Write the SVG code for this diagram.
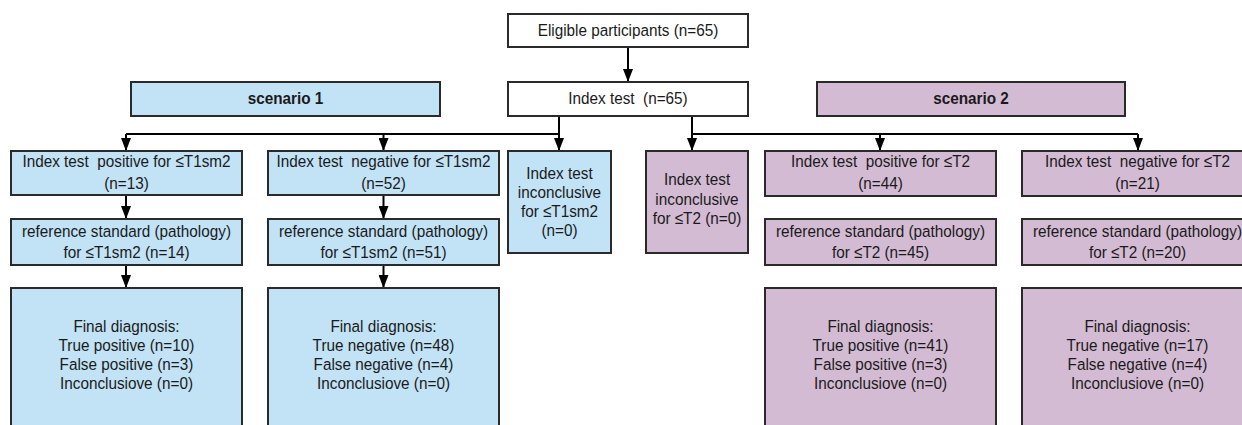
<svg xmlns="http://www.w3.org/2000/svg" width="1242" height="425" viewBox="0 0 1242 425">
<style>
text{font-family:"Liberation Sans",Arial,sans-serif;font-size:17px;fill:#1a1a1a;text-anchor:middle;white-space:pre;transform-box:fill-box;transform-origin:center;transform:scaleX(0.9)}
.b{font-weight:bold}
rect{stroke:#2a2a2a;stroke-width:2}
.w{fill:#ffffff}
.bl{fill:#c2e2f5}
.pu{fill:#d4bbd4}
.c{stroke:#000;stroke-width:2;fill:none}
.a{marker-end:url(#ah)}
</style>
<defs>
<marker id="ah" markerUnits="userSpaceOnUse" markerWidth="13" markerHeight="10" refX="13" refY="5" orient="auto" viewBox="0 0 13 10">
<path d="M0,0 L13,5 L0,10 z" fill="#000"/>
</marker>
</defs>
<g id="connectors">
<path class="c a" d="M628 47 V82"/>
<path class="c" d="M559 116 V134 H126"/>
<path class="c a" d="M126 134 V151"/>
<path class="c a" d="M383.5 134 V151"/>
<path class="c a" d="M559 134 V151"/>
<path class="c" d="M692 116 V134 H1138"/>
<path class="c a" d="M692 134 V151"/>
<path class="c a" d="M880 134 V151"/>
<path class="c a" d="M1138 134 V151"/>
<path class="c a" d="M126 195 V219"/>
<path class="c a" d="M126 265 V288"/>
<path class="c a" d="M383.5 195 V219"/>
<path class="c a" d="M383.5 265 V288"/>
</g>
<g id="eligible"><rect class="w" x="508" y="14" width="240" height="33"/><text x="628" y="36">Eligible participants (n=65)</text></g>
<g id="index"><rect class="w" x="508" y="82" width="240" height="34"/><text x="628" y="104.5">Index test  (n=65)</text></g>
<g id="scenario1"><rect class="bl" x="131" y="82" width="309" height="34"/><text class="b" x="285.5" y="104.5">scenario 1</text></g>
<g id="scenario2"><rect class="pu" x="817" y="82" width="308" height="34"/><text class="b" x="971" y="104.5">scenario 2</text></g>
<g id="pos1"><rect class="bl" x="11" y="151" width="231" height="44"/><text x="126.5" y="167">Index test  positive for ≤T1sm2</text><text x="126.5" y="189">(n=13)</text></g>
<g id="neg1"><rect class="bl" x="268" y="151" width="231" height="44"/><text x="383.5" y="167">Index test  negative for ≤T1sm2</text><text x="383.5" y="189">(n=52)</text></g>
<g id="inc1"><rect class="bl" x="508" y="151" width="103" height="102"/><text x="559.5" y="179">Index test</text><text x="559.5" y="198">inconclusive</text><text x="559.5" y="217">for ≤T1sm2</text><text x="559.5" y="236">(n=0)</text></g>
<g id="inc2"><rect class="pu" x="646" y="151" width="102" height="102"/><text x="697" y="185.5">Index test</text><text x="697" y="205">inconclusive</text><text x="697" y="224.5">for ≤T2 (n=0)</text></g>
<g id="pos2"><rect class="pu" x="765" y="151" width="231" height="45"/><text x="880.5" y="167">Index test  positive for ≤T2</text><text x="880.5" y="189">(n=44)</text></g>
<g id="neg2"><rect class="pu" x="1022" y="151" width="231" height="45"/><text x="1137.5" y="167">Index test  negative for ≤T2</text><text x="1137.5" y="189">(n=21)</text></g>
<g id="ref1"><rect class="bl" x="11" y="219" width="231" height="46"/><text x="126.5" y="237">reference standard (pathology)</text><text x="126.5" y="258">for ≤T1sm2 (n=14)</text></g>
<g id="ref2"><rect class="bl" x="268" y="219" width="231" height="46"/><text x="383.5" y="237">reference standard (pathology)</text><text x="383.5" y="258">for ≤T1sm2 (n=51)</text></g>
<g id="ref3"><rect class="pu" x="765" y="219" width="231" height="46"/><text x="880.5" y="237">reference standard (pathology)</text><text x="880.5" y="258">for ≤T2 (n=45)</text></g>
<g id="ref4"><rect class="pu" x="1022" y="219" width="231" height="46"/><text x="1137.5" y="237">reference standard (pathology)</text><text x="1137.5" y="258">for ≤T2 (n=20)</text></g>
<g id="final1"><rect class="bl" x="11" y="288" width="231" height="150"/><text x="126.5" y="332.5">Final diagnosis:</text><text x="126.5" y="351.5">True positive (n=10)</text><text x="126.5" y="370.5">False positive (n=3)</text><text x="126.5" y="389.5">Inconclusiove (n=0)</text></g>
<g id="final2"><rect class="bl" x="268" y="288" width="231" height="150"/><text x="383.5" y="332.5">Final diagnosis:</text><text x="383.5" y="351.5">True negative (n=48)</text><text x="383.5" y="370.5">False negative (n=4)</text><text x="383.5" y="389.5">Inconclusiove (n=0)</text></g>
<g id="final3"><rect class="pu" x="765" y="288" width="231" height="150"/><text x="880.5" y="332.5">Final diagnosis:</text><text x="880.5" y="351.5">True positive (n=41)</text><text x="880.5" y="370.5">False positive (n=3)</text><text x="880.5" y="389.5">Inconclusiove (n=0)</text></g>
<g id="final4"><rect class="pu" x="1022" y="288" width="231" height="150"/><text x="1137.5" y="332.5">Final diagnosis:</text><text x="1137.5" y="351.5">True negative (n=17)</text><text x="1137.5" y="370.5">False negative (n=4)</text><text x="1137.5" y="389.5">Inconclusiove (n=0)</text></g>
</svg>
